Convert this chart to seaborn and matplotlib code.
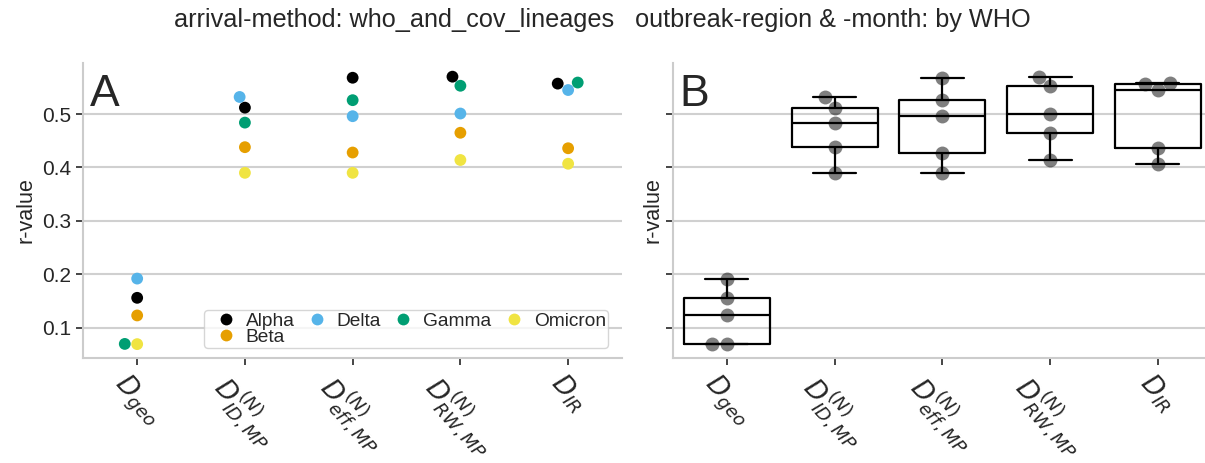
import matplotlib
matplotlib.use("Agg")
import matplotlib.pyplot as plt
import pandas as pd
import seaborn as sns

# distance measures on the x axis
measure_labels = [r"$D_{geo}$", r"$D^{(N)}_{ID,MP}$", r"$D^{(N)}_{eff,MP}$",
                  r"$D^{(N)}_{RW,MP}$", r"$D_{IR}$"]

# r-values per lineage, one entry per measure
variants = ["Alpha", "Beta", "Delta", "Gamma", "Omicron"]
alpha_r = [0.156, 0.512, 0.568, 0.570, 0.557]
beta_r = [0.123, 0.438, 0.428, 0.465, 0.436]
delta_r = [0.192, 0.532, 0.496, 0.501, 0.545]
gamma_r = [0.0697, 0.484, 0.526, 0.553, 0.559]
omicron_r = [0.0693, 0.390, 0.390, 0.414, 0.407]

variant_colors = ["#000000", "#E69F00", "#56B4E9", "#009E73", "#F0E442"]

title = "arrival-method: who_and_cov_lineages   outbreak-region & -month: by WHO"

rows = []
for name, vals in zip(variants, [alpha_r, beta_r, delta_r, gamma_r, omicron_r]):
    for m, v in zip(measure_labels, vals):
        rows.append({"measure": m, "r": v, "variant": name})
df = pd.DataFrame(rows)

sns.set_theme(style="whitegrid", rc={
    "axes.edgecolor": "#cccccc",
    "axes.linewidth": 1.5,
    "grid.color": "#d0d0d0",
    "grid.linewidth": 1.5,
    "xtick.bottom": True,
    "ytick.left": True,
    "xtick.major.size": 5,
    "ytick.major.size": 5,
    "xtick.major.width": 1.2,
    "ytick.major.width": 1.2,
    "xtick.color": "#262626",
    "ytick.color": "#262626",
})
plt.rcParams["font.family"] = ["Liberation Sans", "DejaVu Sans"]
plt.rcParams["mathtext.fontset"] = "dejavusans"

fig = plt.figure(figsize=(12.05, 4.63), dpi=100)
W, H = 1205, 463
top_px, bot_px = 63.3, 357.5
ax_w = 538.7
axA = fig.add_axes([83.3 / W, 1 - bot_px / H, ax_w / W, (bot_px - top_px) / H])
axB = fig.add_axes([673 / W, 1 - bot_px / H, ax_w / W, (bot_px - top_px) / H], sharey=axA)

# Panel A: r-value of each lineage per measure
sns.swarmplot(data=df, x="measure", y="r", hue="variant", order=measure_labels,
              hue_order=variants, palette=variant_colors, size=8.5, ax=axA)
axA.legend(loc="lower right", ncol=4, fontsize=13.8, frameon=True,
           labelspacing=-0.1, borderpad=0.12, handletextpad=0.05,
           columnspacing=0.15, handlelength=2.0, markerscale=1.0,
           borderaxespad=0.5, fancybox=True, bbox_to_anchor=(0.992, 0.0))

# Panel B: distribution across lineages
sns.boxplot(data=df, x="measure", y="r", order=measure_labels, fill=False,
            color="black", linewidth=1.6, showfliers=False, ax=axB)
sns.swarmplot(data=df, x="measure", y="r", order=measure_labels, color="black",
              alpha=0.5, size=10, ax=axB)

for ax, letter in [(axA, "A"), (axB, "B")]:
    ax.set_xlabel("")
    ax.grid(axis="x", visible=False)
    ax.tick_params(axis="y", labelsize=15)
    ax.tick_params(axis="x", labelsize=19, rotation=-48)
    ax.set_xlim(-0.5, 4.5)
    sns.despine(ax=ax)
    ax.text(0.012, 0.963, letter, transform=ax.transAxes, fontsize=32,
            va="top", ha="left", color="#262626")

axA.set_ylabel("r-value", fontsize=15.5)
axB.set_ylabel("r-value", fontsize=15.5, labelpad=2)
axA.set_yticks([0.1, 0.2, 0.3, 0.4, 0.5])
axB.tick_params(axis="y", labelleft=False)

fig.suptitle(title, fontsize=18.2, x=0.5, y=0.982, color="#262626")
fig.savefig("out.png", dpi=100)
